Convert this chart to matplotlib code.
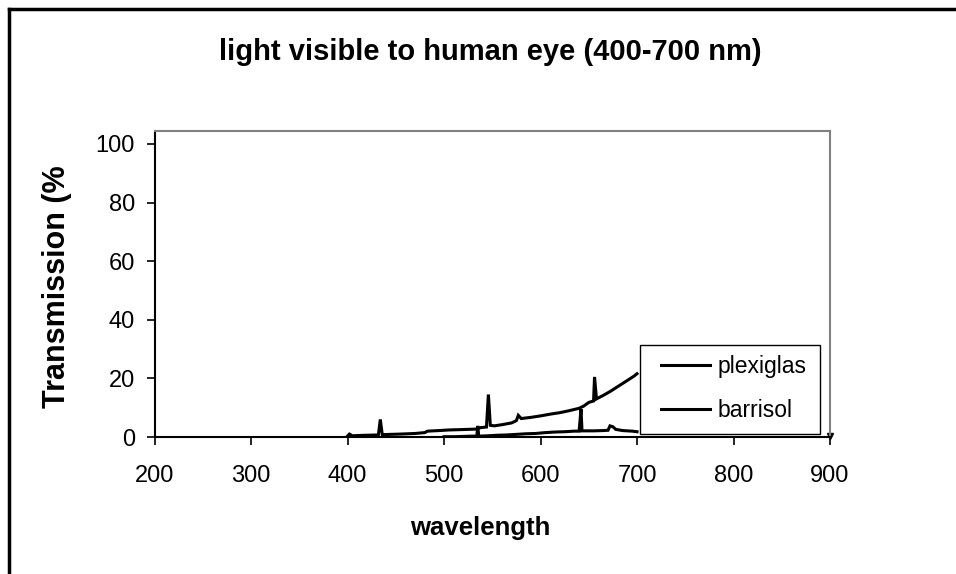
import matplotlib
matplotlib.use("Agg")
import matplotlib.pyplot as plt
from matplotlib.patches import Rectangle

plt.rcParams['font.family'] = ['Liberation Sans', 'DejaVu Sans']

# data
plexi_wl = [400, 402, 405, 410, 420, 432, 434, 436, 445, 455, 470, 480, 483, 495, 505,
            515, 525, 533, 538, 544, 546, 548, 552, 560, 570, 575, 577, 580, 585, 590,
            600, 610, 620, 630, 640, 645, 650, 655, 656, 658, 665, 672, 680, 690, 697, 700]
plexi_t = [0.3, 1.0, 0.4, 0.5, 0.6, 0.7, 6.0, 0.8, 0.9, 1.0, 1.2, 1.5, 2.0, 2.2, 2.4,
           2.5, 2.6, 2.7, 3.2, 3.4, 14.5, 4.0, 3.8, 4.2, 4.8, 5.6, 7.4, 6.3, 6.5, 6.7,
           7.2, 7.8, 8.3, 9.0, 9.8, 10.6, 11.8, 12.3, 20.5, 13.0, 14.2, 15.5, 17.2, 19.3, 20.8, 21.6]

barri_wl = [500, 510, 520, 530, 534, 535, 536, 545, 555, 565, 575, 585, 595, 605, 615,
            625, 635, 640, 642, 643, 655, 665, 670, 672, 675, 678, 685, 695, 700]
barri_t = [0.1, 0.1, 0.2, 0.3, 0.3, 3.8, 0.3, 0.4, 0.6, 0.7, 0.9, 1.1, 1.2, 1.5, 1.7,
           1.8, 2.0, 2.0, 9.5, 2.1, 2.1, 2.2, 2.3, 3.8, 3.5, 2.6, 2.2, 2.0, 1.8]

end_wl = [900]
end_t = [0.3]

series_names = ["plexiglas", "barrisol"]
x_ticks = [200, 300, 400, 500, 600, 700, 800, 900]
y_ticks = [0, 20, 40, 60, 80, 100]

W, H = 956, 574
fig = plt.figure(figsize=(W / 100, H / 100), dpi=100)

# outer chart border (top and left visible)
fig.add_artist(plt.Line2D([9 / W, 9 / W], [0, 1 - 9 / H], color='black', lw=2.5,
                          transform=fig.transFigure))
fig.add_artist(plt.Line2D([9 / W, 1], [1 - 9 / H, 1 - 9 / H], color='black', lw=2.5,
                          transform=fig.transFigure))

left, right, top, bottom = 154.5, 830, 131, 437
ax = fig.add_axes([left / W, 1 - bottom / H, (right - left) / W, (bottom - top) / H])

l1, = ax.plot(plexi_wl, plexi_t, color='black', lw=2.2, label=series_names[0],
              solid_joinstyle='miter')
l2, = ax.plot(barri_wl, barri_t, color='black', lw=2.2, label=series_names[1],
              solid_joinstyle='miter')
ax.plot(end_wl, end_t, marker='v', color='black', ms=5, ls='none', clip_on=False)

ax.set_xlim(200, 900)
ax.set_ylim(0, (bottom - top) / 2.93)
ax.set_xticks(x_ticks)
ax.set_yticks(y_ticks)
ax.tick_params(axis='both', direction='out', length=6, width=1.2, labelsize=17,
               colors='black')
ax.tick_params(axis='x', pad=14)
ax.tick_params(axis='y', pad=8)

for s in ['top', 'right']:
    ax.spines[s].set_color('#808080')
    ax.spines[s].set_linewidth(1.5)
for s in ['left', 'bottom']:
    ax.spines[s].set_color('black')
    ax.spines[s].set_linewidth(1.5)

# legend box
fig.add_artist(Rectangle((640 / W, 1 - 434 / H), 180 / W, 89 / H, transform=fig.transFigure,
                         facecolor='white', edgecolor='black', lw=1.0, zorder=5))
leg = fig.legend(handles=[l1, l2], labels=series_names, loc='center left',
                 bbox_to_anchor=(661 / W, 1 - 388.5 / H), bbox_transform=fig.transFigure,
                 frameon=False, fontsize=16.5, handlelength=2.15, handletextpad=0.3,
                 labelspacing=0.88, borderpad=0, borderaxespad=0)
leg.set_zorder(6)

fig.text(490 / W, 1 - 52 / H, "light visible to human eye (400-700 nm)",
         ha='center', va='center', fontsize=21, fontweight='bold')
fig.text(480 / W, 1 - 528 / H, "wavelength", ha='center', va='center',
         fontsize=18.5, fontweight='bold')

fig.text(57 / W, 1 - 408 / H, "Transmission (%", rotation=90, ha='center',
         va='bottom', fontsize=22, fontweight='bold')

fig.savefig("out.png", dpi=100)
